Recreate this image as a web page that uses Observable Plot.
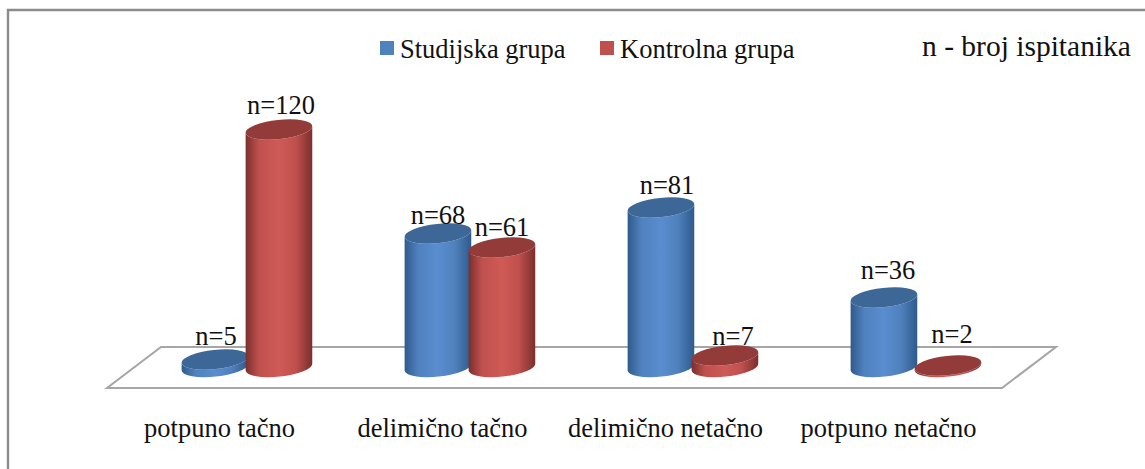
<!DOCTYPE html>
<html lang="sr">
<head>
<meta charset="utf-8">
<script src="https://cdn.jsdelivr.net/npm/d3@7"></script>
<script src="https://cdn.jsdelivr.net/npm/@observablehq/plot@0.6"></script>
<style>
  html, body { margin: 0; padding: 0; background: #fff; }
  svg { display: block; }
</style>
</head>
<body>
<div id="chart"></div>
<script>
// Answer categories and the number of respondents per group
const categories = ["potpuno tačno", "delimično tačno", "delimično netačno", "potpuno netačno"];
const studijskaValues = [5, 68, 81, 36];
const kontrolnaValues = [120, 61, 7, 2];
const seriesNames = ["Studijska grupa", "Kontrolna grupa"];
const note = "n - broj ispitanika";

// Per-label nudges for the value labels, [dx, dy] in pixels
const studijskaNudge = [[1, -23], [0, -18], [6, -22], [4, -27]];
const kontrolnaNudge = [[2, -24], [0, -20], [8, -19], [4, -31]];

const palette = {
  [seriesNames[0]]: {flat: "#4f81bd", cap: "#3c6797", edge: "#2f5a8c", mid: "#5a8dd0", id: "cyl-blue"},
  [seriesNames[1]]: {flat: "#c0504d", cap: "#933b39", edge: "#7a2f2d", mid: "#cf5a56", id: "cyl-red"}
};

const rows = categories.flatMap((category, i) => [
  {category, series: seriesNames[0], value: studijskaValues[i], side: -1, nudge: studijskaNudge[i]},
  {category, series: seriesNames[1], value: kontrolnaValues[i], side: 1, nudge: kontrolnaNudge[i]}
]);

const barHalf = 32;
const rx = 33.5, ry = 9.6, tilt = -6;
const baseLift = 2;

// Outer chart-area border: top and left edges only
function panelBorder(index, scales, channels, {width, height}) {
  return d3.create("svg:path")
    .attr("d", `M8,${height}V10H${width}`)
    .attr("fill", "none").attr("stroke", "#8c8c8c").attr("stroke-width", 2.4)
    .node();
}

// Perspective floor, laid out from the ends of the category band and the zero line
function floorPlane(index, {x, y}) {
  const [x0, x1] = x.range();
  const y0 = y(0);
  const pts = [[x0 - 26.5, y0 + 19], [x1 - 27, y0 + 19], [x1 + 27, y0 - 22], [x0 + 27.5, y0 - 22]];
  return d3.create("svg:path")
    .attr("d", "M" + pts.join("L") + "Z")
    .attr("fill", "#fff").attr("stroke", "#a6a6a6").attr("stroke-width", 2)
    .attr("stroke-linejoin", "miter")
    .node();
}

// Tilted cylinders drawn through the x and y scales
function cylinders(index, {x, y}) {
  const g = d3.create("svg:g");
  const defs = g.append("defs");
  for (const name of seriesNames) {
    const c = palette[name];
    const grad = defs.append("linearGradient").attr("id", c.id)
      .attr("x1", 0).attr("x2", 1).attr("y1", 0).attr("y2", 0);
    [[0, c.edge], [0.2, c.flat], [0.5, c.mid], [0.75, c.flat], [1, c.edge]].forEach(([o, col]) =>
      grad.append("stop").attr("offset", o).attr("stop-color", col));
  }
  const [r0, r1] = x.range();
  const step = (r1 - r0) / categories.length;
  const dx = rx * Math.cos(tilt * Math.PI / 180);
  const dy = rx * Math.sin(tilt * Math.PI / 180);
  for (const d of rows) {
    const cx = x(d.category) + step / 2 + d.side * barHalf;
    const top = y(d.value) + 0.5, base = y(0) - baseLift;
    const c = palette[d.series];
    const arc = (ex, ey, sweep) => `A${rx},${ry} ${tilt} 0 ${sweep} ${ex},${ey}`;
    g.append("path")
      .attr("d", `M${cx - dx},${top - dy}L${cx - dx},${base - dy}` +
        arc(cx + dx, base + dy, 0) + `L${cx + dx},${top + dy}` + arc(cx - dx, top - dy, 1) + "Z")
      .attr("fill", `url(#${c.id})`);
    g.append("ellipse")
      .attr("cx", cx).attr("cy", top).attr("rx", rx).attr("ry", ry)
      .attr("transform", `rotate(${tilt} ${cx} ${top})`)
      .attr("fill", c.cap);
  }
  return g.node();
}

// Legend row and the note about n, set inside the top of the panel
function legendRow() {
  const g = d3.create("svg:g").attr("fill", "#111").attr("text-anchor", "start");
  [[380, 400], [600, 620]].forEach(([sx, tx], i) => {
    g.append("rect").attr("x", sx).attr("y", 41).attr("width", 14).attr("height", 14)
      .attr("fill", palette[seriesNames[i]].flat);
    g.append("text").attr("x", tx).attr("y", 58).attr("font-size", 26.5).text(seriesNames[i]);
  });
  g.append("text").attr("x", 922).attr("y", 56).attr("font-size", 29.5).text(note);
  return g.node();
}

const labels = rows.map(d => Plot.text([d], {
  x: "category",
  y: "value",
  text: r => "n=" + r.value,
  dx: d.side * barHalf + d.nudge[0],
  dy: d.nudge[1],
  fontSize: 26.5,
  fill: "#111"
}));

const chart = Plot.plot({
  width: 1145,
  height: 469,
  marginTop: 129,
  marginBottom: 100,
  marginLeft: 133.5,
  marginRight: 116,
  style: {fontFamily: "'Liberation Serif', serif", background: "#fff"},
  x: {type: "band", domain: categories, padding: 0, label: null},
  y: {domain: [0, 120], axis: null},
  marks: [
    panelBorder,
    floorPlane,
    cylinders,
    ...labels,
    Plot.axisX({tickSize: 0, tickPadding: 49, dx: -27.5, fontSize: 26.5, fill: "#111", label: null}),
    legendRow
  ]
});
document.getElementById("chart").append(chart);
</script>
</body>
</html>
